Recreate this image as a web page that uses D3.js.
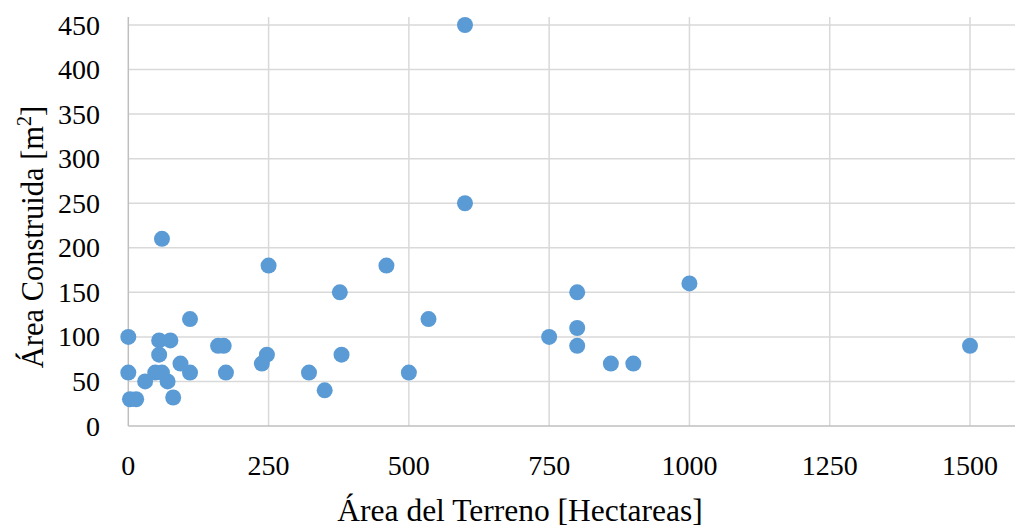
<!DOCTYPE html>
<html>
<head>
<meta charset="utf-8">
<script src="https://cdn.jsdelivr.net/npm/d3@7"></script>
<style>
  html, body { margin: 0; padding: 0; background: #fff; }
  svg { display: block; }
</style>
</head>
<body>
<svg id="chart" width="1015" height="529" font-family="'Liberation Serif', 'Times New Roman', serif"></svg>
<script>
// Land area (hectares) against built area (m²) for each property
const terrenoHa = [0, 110, 55, 75, 55, 160, 170, 0, 48, 60, 93, 110, 174, 30, 70, 3, 14, 80,
                   60, 250, 238, 247, 322, 350, 380, 377, 460, 500, 535, 600, 600,
                   750, 800, 800, 800, 860, 900, 1000, 1500];
const construidaM2 = [100, 120, 96, 96, 80, 90, 90, 60, 60, 60, 70, 60, 60, 50, 50, 30, 30, 32,
                      210, 180, 70, 80, 60, 40, 80, 150, 180, 60, 120, 250, 450,
                      100, 150, 110, 90, 70, 70, 160, 90];

const xTicks = [0, 250, 500, 750, 1000, 1250, 1500];
const yTicks = [0, 50, 100, 150, 200, 250, 300, 350, 400, 450];

const xTitle = "Área del Terreno [Hectareas]";
const yTitle = "Área Construida [m";

const svg = d3.select("#chart");

const plot = { left: 128.3, right: 1015, top: 17, bottom: 426 };

const x = d3.scaleLinear().domain([0, 1500]).range([plot.left, 970]);
const y = d3.scaleLinear().domain([0, 450]).range([plot.bottom, 25]);

const gridColor = "#d9d9d9";
const axisColor = "#bfbfbf";

// horizontal gridlines
svg.append("g")
  .selectAll("line")
  .data(yTicks.filter(d => d !== 0))
  .join("line")
  .attr("x1", plot.left).attr("x2", plot.right)
  .attr("y1", d => y(d)).attr("y2", d => y(d))
  .attr("stroke", gridColor).attr("stroke-width", 1.5);

// vertical gridlines
svg.append("g")
  .selectAll("line")
  .data(xTicks.filter(d => d !== 0))
  .join("line")
  .attr("x1", d => x(d)).attr("x2", d => x(d))
  .attr("y1", plot.top).attr("y2", plot.bottom)
  .attr("stroke", gridColor).attr("stroke-width", 1.5);

// axis lines
svg.append("line")
  .attr("x1", x(0)).attr("x2", x(0))
  .attr("y1", plot.top).attr("y2", plot.bottom)
  .attr("stroke", axisColor).attr("stroke-width", 1.5);
svg.append("line")
  .attr("x1", plot.left).attr("x2", plot.right)
  .attr("y1", y(0)).attr("y2", y(0))
  .attr("stroke", axisColor).attr("stroke-width", 1.5);

// y tick labels
svg.append("g")
  .selectAll("text")
  .data(yTicks)
  .join("text")
  .attr("x", 100)
  .attr("y", d => y(d))
  .attr("dy", "0.34em")
  .attr("text-anchor", "end")
  .attr("font-size", 28)
  .attr("fill", "#000")
  .text(d => d);

// x tick labels
svg.append("g")
  .selectAll("text")
  .data(xTicks)
  .join("text")
  .attr("x", d => x(d))
  .attr("y", 475)
  .attr("text-anchor", "middle")
  .attr("font-size", 28)
  .attr("fill", "#000")
  .text(d => d);

// axis titles
svg.append("text")
  .attr("x", 520)
  .attr("y", 521)
  .attr("text-anchor", "middle")
  .attr("font-size", 31.5)
  .attr("fill", "#000")
  .text(xTitle);

const yt = svg.append("text")
  .attr("transform", "translate(43,237) rotate(-90)")
  .attr("text-anchor", "middle")
  .attr("font-size", 30.5)
  .attr("fill", "#000");
yt.append("tspan").text(yTitle);
yt.append("tspan").attr("font-size", 20).attr("dy", -12).text("2");
yt.append("tspan").attr("dy", 12).text("]");

// data points
svg.append("g")
  .selectAll("circle")
  .data(terrenoHa.map((v, i) => [v, construidaM2[i]]))
  .join("circle")
  .attr("cx", d => x(d[0]))
  .attr("cy", d => y(d[1]))
  .attr("r", 8)
  .attr("fill", "#5b9bd5");
</script>
</body>
</html>
